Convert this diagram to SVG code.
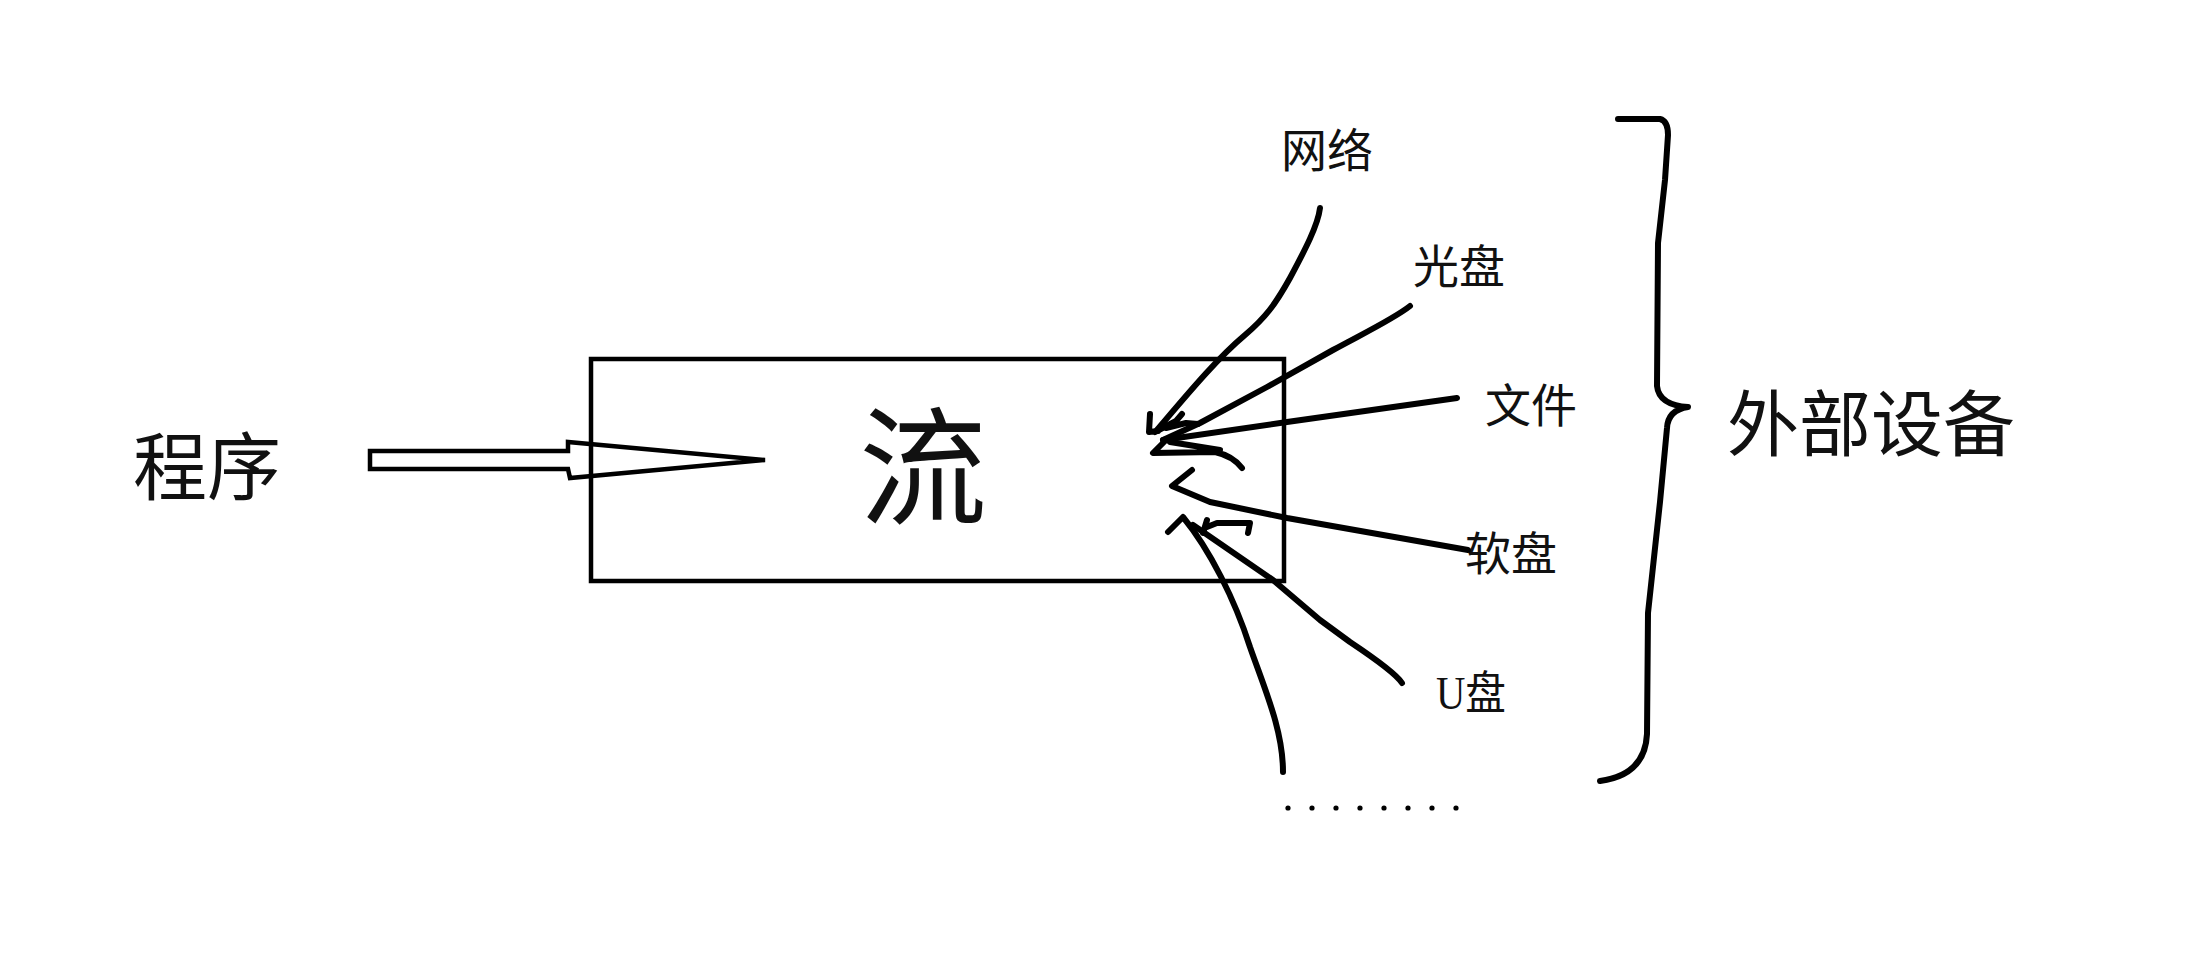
<svg xmlns="http://www.w3.org/2000/svg" width="2205" height="963" viewBox="0 0 2205 963">
<style>
.ln{fill:none;stroke:#000;stroke-width:6;stroke-linecap:round;stroke-linejoin:round}
.box{fill:none;stroke:#000;stroke-width:4.5}
.t{font-family:"Noto Sans CJK SC","Noto Sans",sans-serif;fill:#111}
.lbl{font-size:46px}
</style>
<rect width="2205" height="963" fill="#fff"/>
<g id="program"><text class="t" x="133" y="494" font-size="74">程序</text></g>
<g id="stream">
<rect class="box" x="591" y="359" width="693" height="222"/>
<text class="t" x="923" y="515" font-size="128" text-anchor="middle">流</text>
</g>
<g id="arrow"><polygon class="box" points="370,451 568,451 568,442 765,460 570,478 568,469 370,469"/></g>
<g id="label-network"><text class="t lbl" x="1281" y="167">网络</text></g>
<g id="label-cd"><text class="t lbl" x="1413" y="283">光盘</text></g>
<g id="label-file"><text class="t lbl" x="1485" y="422">文件</text></g>
<g id="label-floppy"><text class="t lbl" x="1465" y="570">软盘</text></g>
<g id="label-usb"><text class="lbl" x="1436" y="709" font-family="'Liberation Serif','Noto Sans CJK SC',serif" fill="#111" textLength="70" lengthAdjust="spacingAndGlyphs">U盘</text></g>
<g id="label-more" fill="#000">
<circle cx="1288" cy="808" r="2.6"/><circle cx="1312" cy="808" r="2.6"/><circle cx="1336" cy="808" r="2.6"/><circle cx="1360" cy="808" r="2.6"/><circle cx="1384" cy="808" r="2.6"/><circle cx="1408" cy="808" r="2.6"/><circle cx="1432" cy="808" r="2.6"/><circle cx="1456" cy="808" r="2.6"/>
</g>
<g id="external"><text class="t" x="1727" y="450" font-size="72">外部设备</text></g>
<g id="brace"><path class="ln" d="M1618,119 L1660,119 Q1668,121 1668,135 L1665,180 L1658,243 L1657,386 Q1659,405 1688,407 Q1668,410 1667,428 L1660,502 L1648,613 L1647,734 Q1645,775 1600,781"/></g>
<g id="connectors">
<path class="ln" d="M1320,208 C1318,225 1305,250 1290,278 C1275,305 1265,318 1245,335 C1220,356 1195,385 1157,430"/>
<path class="ln" d="M1410,306 C1395,318 1370,330 1333,350 L1267,387 L1200,423 L1163,440"/>
<path class="ln" d="M1457,398 L1287,422 L1163,440"/>
<path class="ln" d="M1150,414 L1149,432 L1158,431 M1155,432 L1176,421 L1182,414 M1166,428 L1186,423 L1198,424"/>
<path class="ln" d="M1165,441 L1153,453 L1215,452 Q1233,456 1242,468 M1170,442 L1220,450"/>
<path class="ln" d="M1192,470 L1172,486 L1210,502 L1287,518 L1468,550"/>
<path class="ln" d="M1402,683 Q1395,672 1350,642 L1320,620 L1273,580 L1193,525"/>
<path class="ln" d="M1207,527 L1217,523 L1250,523 L1248,533 M1207,520 L1203,533"/>
<path class="ln" d="M1168,532 L1183,517 C1210,550 1235,600 1250,647 C1265,690 1283,730 1283,772"/>
</g>
</svg>
